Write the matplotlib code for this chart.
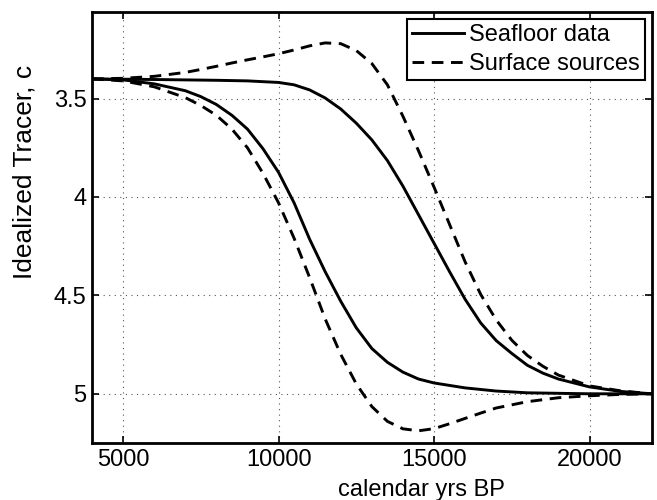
import matplotlib
matplotlib.use("Agg")
import matplotlib.pyplot as plt

plt.rcParams['font.family'] = ['Liberation Sans', 'DejaVu Sans']

# Seafloor data (solid), early curve
sa_x = [4000, 5000, 6000, 7000, 7500, 8000, 8500, 9000, 9500, 10000, 10500, 11000,
        11500, 12000, 12500, 13000, 13500, 14000, 14500, 15000, 16000, 17000, 18000,
        20000, 22000]
sa_y = [3.40, 3.405, 3.425, 3.46, 3.49, 3.53, 3.585, 3.655, 3.755, 3.875, 4.03, 4.215,
        4.38, 4.53, 4.665, 4.77, 4.84, 4.89, 4.925, 4.945, 4.97, 4.986, 4.995,
        5.0, 5.0]

# Surface sources (dashed), early curve
da_x = [4000, 5000, 6000, 7000, 7500, 8000, 8500, 9000, 9500, 10000, 10500, 11000,
        11500, 12000, 12500, 13000, 13500, 14000, 14500, 15000, 15500, 16000, 16500,
        17000, 18000, 19000, 20000, 21000, 22000]
da_y = [3.40, 3.41, 3.44, 3.495, 3.535, 3.585, 3.655, 3.75, 3.88, 4.03, 4.21, 4.41,
        4.62, 4.80, 4.95, 5.065, 5.14, 5.178, 5.188, 5.177, 5.152, 5.125, 5.098,
        5.072, 5.04, 5.02, 5.01, 5.003, 5.0]

# Seafloor data (solid), late curve
sb_x = [4000, 6000, 8000, 9000, 10000, 10500, 11000, 11500, 12000, 12500, 13000, 13500,
        14000, 14500, 15000, 15500, 16000, 16500, 17000, 17500, 18000, 18500, 19000,
        20000, 21000, 22000]
sb_y = [3.40, 3.403, 3.407, 3.41, 3.418, 3.43, 3.456, 3.497, 3.553, 3.625, 3.71, 3.815,
        3.945, 4.09, 4.235, 4.38, 4.52, 4.64, 4.73, 4.795, 4.855, 4.895, 4.925,
        4.965, 4.988, 5.0]

# Surface sources (dashed), late curve
db_x = [4000, 5000, 6000, 7000, 7500, 8000, 8500, 9000, 9500, 10000, 10500, 11000,
        11500, 12000, 12500, 13000, 13500, 14000, 14500, 15000, 15500, 16000, 16500,
        17000, 17500, 18000, 18500, 19000, 20000, 21000, 22000]
db_y = [3.40, 3.397, 3.387, 3.367, 3.352, 3.336, 3.319, 3.303, 3.288, 3.272, 3.253, 3.232,
        3.217, 3.221, 3.256, 3.322, 3.43, 3.59, 3.765, 3.95, 4.14, 4.33, 4.495,
        4.625, 4.728, 4.805, 4.86, 4.905, 4.96, 4.985, 5.0]

xticks = [5000, 10000, 15000, 20000]
yticks = [3.5, 4, 4.5, 5]
ytick_labels = ['3.5', '4', '4.5', '5']

fig = plt.figure(figsize=(6.57, 5.0), dpi=100)
ax = fig.add_axes([0.140, 0.114, 0.852, 0.862])

lw = 2.1
dash = (0, (4, 2.6))
ax.plot(sa_x, sa_y, color='black', lw=lw, ls='-', label='Seafloor data')
ax.plot(da_x, da_y, color='black', lw=lw, ls=dash, label='Surface sources')
ax.plot(sb_x, sb_y, color='black', lw=lw, ls='-')
ax.plot(db_x, db_y, color='black', lw=lw, ls=dash)

ax.set_xlim(4000, 22000)
ax.set_ylim(5.25, 3.06)
ax.set_xticks(xticks)
ax.set_xticklabels([str(t) for t in xticks])
ax.set_yticks(yticks)
ax.set_yticklabels(ytick_labels)

ax.grid(True, color='#555555', ls=(0, (1, 4)), lw=0.8)
ax.tick_params(direction='in', top=True, right=True, length=5, width=1.2,
               labelsize=17, pad=4)
for s in ax.spines.values():
    s.set_linewidth(2.0)

ax.set_xlabel('calendar yrs BP', fontsize=17)
ax.set_ylabel('Idealized Tracer, c', fontsize=19)
ax.xaxis.set_label_coords(0.589, -0.083)
ax.yaxis.set_label_coords(-0.100, 0.628)

leg = ax.legend(loc='upper right', fontsize=17, frameon=True, fancybox=False,
                handlelength=2.2, handletextpad=0.2, borderpad=0.22,
                labelspacing=0.28, borderaxespad=0.3)
leg.get_frame().set_edgecolor('black')
leg.get_frame().set_linewidth(1.5)
leg.get_frame().set_alpha(1)

fig.savefig('out.png', dpi=100)
